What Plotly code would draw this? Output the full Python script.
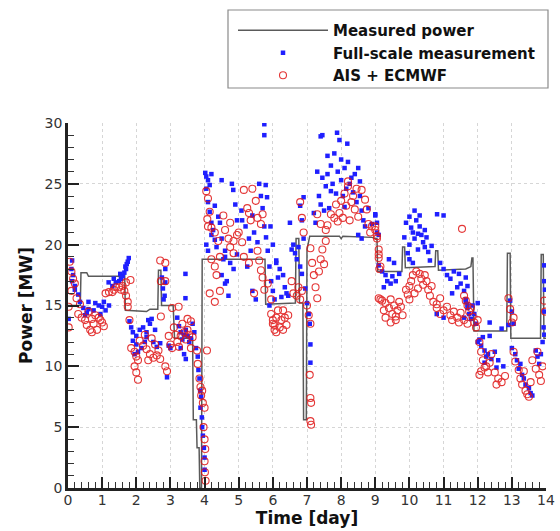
import plotly.graph_objects as go

# Measured power (step line): (time [day], power [MW])
measured = [
    (0.0, 15.0), (0.36, 15.0), (0.38, 17.7), (0.55, 17.7), (0.6, 17.4), (1.6, 17.4),
    (1.65, 17.5), (1.66, 17.5), (1.68, 14.6), (2.3, 14.5), (2.4, 14.7), (2.63, 14.7),
    (2.65, 17.9), (2.72, 17.9), (2.74, 15.0), (3.08, 15.0), (3.12, 12.3), (3.65, 12.3),
    (3.67, 5.6), (3.76, 5.6), (3.78, 3.3), (3.84, 3.3), (3.86, 0.0), (3.91, 0.0),
    (3.93, 18.8), (5.77, 18.8), (5.79, 15.1), (6.66, 15.2), (6.68, 20.5), (6.76, 20.5),
    (6.78, 15.2), (6.88, 15.2), (6.9, 5.6), (6.98, 5.6), (7.0, 19.6), (7.08, 20.7),
    (7.95, 20.7), (8.0, 20.5), (8.05, 20.7), (8.9, 20.6), (9.0, 20.5), (9.05, 20.5),
    (9.07, 17.8), (9.78, 17.8), (9.8, 19.8), (9.86, 19.8), (9.88, 18.1), (10.75, 18.2),
    (10.77, 19.5), (10.83, 19.5), (10.85, 17.9), (11.65, 18.0), (11.8, 18.2),
    (11.83, 18.9), (11.86, 18.9), (11.89, 12.9), (12.85, 12.9), (12.87, 19.3),
    (12.95, 19.3), (12.97, 12.3), (13.84, 12.3), (13.86, 19.2), (13.92, 19.2),
    (13.94, 12.3), (14.0, 12.3),
]

# Full-scale measurement (blue squares)
full_scale = [
    (0.12, 18.7), (0.10, 18.0), (0.15, 17.5), (0.12, 17.0), (0.20, 16.6), (0.20, 16.3),
    (0.30, 15.9), (0.35, 15.3), (0.02, 13.9), (0.45, 14.8), (0.55, 14.4), (0.60, 14.7),
    (0.50, 14.2), (0.60, 15.3), (0.80, 15.2), (0.90, 15.0), (1.00, 14.9), (1.10, 14.6),
    (0.75, 14.6), (0.95, 14.3), (1.05, 15.3), (1.20, 15.0), (1.19, 16.9), (1.30, 16.6),
    (1.34, 17.2), (1.40, 16.9), (1.50, 17.0), (1.53, 17.6), (1.55, 17.2), (1.60, 17.4),
    (1.65, 17.7), (1.68, 18.2), (1.70, 18.0), (1.72, 18.4), (1.75, 18.6), (1.78, 18.9),
    (1.80, 13.7), (1.85, 13.2), (1.90, 12.8), (2.00, 12.5), (2.10, 13.0), (2.20, 13.2),
    (2.30, 12.4), (2.00, 11.8), (1.90, 12.1), (2.35, 13.8), (2.40, 13.5), (2.25, 12.0),
    (2.15, 11.5), (2.05, 11.2), (1.95, 11.0), (2.30, 12.8), (2.50, 12.0), (2.60, 11.6),
    (2.70, 11.9), (2.45, 13.9), (2.55, 13.0), (2.75, 17.3), (2.78, 16.4), (2.80, 15.5),
    (2.85, 18.0), (2.85, 16.9), (2.83, 15.8), (2.90, 9.1), (2.95, 11.7), (3.00, 11.5),
    (3.20, 14.0), (3.25, 13.3), (3.30, 12.8), (3.35, 12.2), (3.40, 12.6), (3.45, 13.0),
    (3.50, 12.5), (3.55, 12.0), (3.60, 12.3), (3.30, 11.5), (3.40, 11.0), (3.45, 10.6),
    (3.65, 13.5), (3.70, 12.8), (3.75, 11.5), (3.44, 17.6), (3.44, 15.6),
    (3.80, 10.8), (3.82, 9.7), (3.85, 9.0), (3.87, 8.0), (3.90, 7.5), (3.88, 6.6),
    (3.92, 5.8), (3.93, 5.0), (3.95, 4.3), (3.98, 3.3), (4.00, 2.5), (4.00, 1.5),
    (4.02, 25.9), (4.05, 25.6), (4.10, 25.3), (4.20, 25.8), (4.15, 24.9), (4.05, 24.6),
    (4.10, 23.5), (4.15, 22.7), (4.20, 21.8), (4.05, 20.0), (4.10, 19.5), (4.20, 20.8),
    (4.25, 21.2), (4.30, 20.4), (4.30, 23.2), (4.40, 22.3), (4.45, 21.8), (4.50, 20.5),
    (4.60, 19.5), (4.55, 18.8), (4.50, 17.5), (4.60, 16.8), (4.70, 15.8), (4.65, 17.0),
    (4.50, 25.3), (4.84, 24.5), (4.80, 25.0), (4.90, 23.3), (4.95, 22.0), (4.60, 19.0),
    (4.75, 18.5), (4.85, 18.0), (5.08, 22.8), (5.10, 22.0), (5.20, 21.5), (5.30, 20.5),
    (5.35, 19.5), (5.40, 22.4), (5.45, 21.0), (5.60, 25.0), (5.65, 24.0), (5.70, 23.0),
    (5.75, 21.5), (5.80, 20.6), (5.75, 29.9), (5.75, 29.0), (5.79, 24.9), (5.83, 23.9),
    (5.40, 16.2), (5.50, 15.5), (5.85, 19.5), (5.90, 18.2), (5.95, 17.0), (6.00, 16.2),
    (6.05, 15.5), (5.90, 15.0), (4.35, 19.8), (4.95, 19.2), (5.25, 18.2), (5.55, 20.2),
    (5.93, 21.5), (6.00, 20.0), (6.10, 18.5), (6.15, 17.3), (6.10, 18.7), (6.20, 18.0),
    (6.30, 17.5), (6.35, 16.5), (6.40, 16.0), (6.25, 15.7), (6.45, 15.8), (6.50, 21.8),
    (6.60, 20.0), (6.65, 19.3), (6.70, 18.8), (6.75, 19.8), (6.80, 18.2), (6.85, 17.6),
    (6.55, 19.6), (6.90, 20.5), (6.80, 23.2), (6.85, 22.0), (6.90, 23.9), (6.95, 16.4),
    (7.00, 15.2), (7.05, 14.3), (7.08, 13.5), (7.10, 11.8), (7.10, 10.3), (7.20, 22.6),
    (7.25, 21.8), (7.40, 28.9), (7.45, 29.0), (7.88, 29.2), (8.18, 28.3), (7.95, 28.6),
    (7.30, 26.0), (7.45, 25.5), (7.55, 24.8), (7.60, 27.3), (7.70, 26.5), (7.75, 25.0),
    (7.85, 24.2), (7.90, 26.0), (8.00, 25.3), (8.05, 24.0), (8.10, 23.1), (8.20, 26.8),
    (8.30, 25.5), (8.35, 24.3), (8.40, 25.8), (8.45, 23.5), (7.50, 22.8), (7.65, 23.0),
    (7.35, 24.0), (7.80, 27.5), (8.25, 25.0), (7.60, 25.8), (8.10, 26.3), (7.70, 24.4),
    (8.00, 27.0), (8.55, 25.2), (7.40, 23.3), (8.15, 24.6),
    (8.50, 26.3), (8.55, 24.0), (8.60, 22.8), (8.65, 22.0), (8.70, 21.5), (8.80, 23.0),
    (8.90, 21.7), (9.00, 22.4), (9.05, 21.0), (8.50, 20.8), (8.60, 20.5),
    (9.00, 22.5), (9.05, 21.8), (9.10, 20.8), (9.10, 18.3), (9.20, 17.8), (9.30, 17.5),
    (9.35, 17.0), (9.45, 16.8), (9.50, 17.4), (9.60, 17.0), (9.70, 17.6), (9.25, 16.5),
    (9.40, 18.8), (9.55, 18.5), (9.90, 21.8), (10.00, 22.3), (10.10, 21.0), (10.15, 20.5),
    (10.20, 22.0), (10.30, 21.5), (10.35, 20.8), (10.40, 20.2), (10.45, 19.8),
    (10.50, 20.6), (10.55, 19.4), (10.60, 18.7), (10.00, 20.0), (9.95, 19.3),
    (10.25, 19.6), (10.30, 22.4), (10.15, 22.8), (10.81, 22.5), (11.00, 22.4),
    (10.05, 21.4), (10.25, 20.9), (10.45, 21.2), (9.85, 20.6), (10.65, 19.9),
    (10.90, 18.5), (11.00, 18.0), (11.10, 17.5), (11.20, 17.2), (11.30, 17.8),
    (11.40, 16.5), (11.50, 16.8), (11.60, 16.2), (11.65, 15.5), (11.70, 15.1),
    (11.25, 16.0), (11.45, 17.6), (10.00, 18.8), (10.10, 18.5), (10.80, 14.3), (11.00, 14.0),
    (11.65, 17.3), (11.70, 16.6), (11.65, 15.3), (11.70, 14.8), (11.75, 14.3),
    (11.80, 13.9), (11.85, 15.0), (11.90, 14.3), (11.95, 13.5), (11.60, 14.0),
    (12.00, 15.2), (12.05, 12.2), (12.10, 11.7), (12.15, 12.4), (12.20, 11.3),
    (12.30, 11.0), (12.35, 12.5), (12.00, 12.0), (12.25, 10.8), (12.35, 13.6),
    (12.70, 13.1), (12.20, 10.3), (12.40, 10.6), (12.55, 9.9), (12.60, 10.5),
    (12.75, 10.0), (12.50, 11.2), (12.95, 15.4), (13.00, 14.5), (12.90, 13.4),
    (13.05, 13.5), (13.00, 11.5), (13.10, 11.0), (13.15, 10.5), (13.20, 9.8),
    (13.30, 9.3), (13.35, 9.0), (13.40, 8.5), (13.50, 8.2), (13.55, 7.8), (13.60, 7.6),
    (13.25, 10.2), (13.70, 11.3), (13.75, 10.8), (13.80, 10.2), (13.85, 11.0),
    (13.90, 12.0), (13.95, 12.6), (13.95, 18.3), (13.95, 17.0), (13.97, 16.3),
    (13.95, 14.5), (13.93, 13.2),
]

# AIS + ECMWF (red open circles)
ais_ecmwf = [
    (0.05, 18.6), (0.10, 17.8), (0.15, 17.2), (0.20, 16.8), (0.10, 16.2), (0.02, 14.9),
    (0.02, 13.2), (0.25, 15.6), (0.35, 15.1), (0.30, 14.3), (0.40, 14.0), (0.50, 13.8),
    (0.55, 13.4), (0.65, 13.0), (0.70, 13.9), (0.75, 13.5), (0.70, 12.8), (0.60, 14.5),
    (0.85, 13.0), (0.80, 14.2), (0.90, 14.0), (1.00, 13.6), (1.05, 13.3), (0.95, 13.8),
    (1.10, 16.0), (1.20, 16.1), (1.30, 16.1), (1.35, 16.3), (1.40, 16.5), (1.50, 16.5),
    (1.55, 16.3), (1.60, 16.6), (1.65, 16.2), (1.70, 16.9), (1.83, 17.1), (1.70, 15.8),
    (1.75, 15.3), (1.75, 14.9), (1.80, 13.8), (1.85, 11.5), (1.95, 11.2), (2.00, 10.8),
    (2.05, 10.5), (1.95, 10.0), (2.00, 9.5), (2.05, 8.9), (2.10, 12.1), (2.20, 11.7),
    (2.30, 11.4), (2.40, 11.0), (2.50, 10.7), (2.60, 10.9), (2.25, 12.6), (2.45, 12.3),
    (2.55, 11.8), (2.65, 11.3), (2.70, 10.6), (2.35, 10.5), (2.70, 18.7), (2.72, 17.0),
    (2.72, 14.1), (2.90, 9.6), (2.95, 12.5), (3.00, 11.8), (3.05, 11.5),
    (2.85, 18.5), (2.85, 17.0), (2.85, 10.0), (3.05, 14.8), (3.10, 13.2), (3.15, 12.6),
    (3.20, 12.0), (3.25, 11.6), (3.30, 12.5), (3.35, 13.5), (3.40, 12.8), (3.45, 12.2),
    (3.50, 13.0), (3.55, 12.6), (3.60, 11.5), (3.65, 12.4), (3.50, 13.9), (3.60, 13.7),
    (3.24, 14.9), (3.78, 11.3), (3.80, 10.2), (3.85, 9.0), (3.88, 8.3), (3.90, 7.6),
    (3.95, 7.0), (4.00, 6.6), (3.93, 8.0), (3.97, 5.0), (4.00, 4.0), (4.02, 3.2),
    (4.00, 2.2), (4.01, 1.3), (4.03, 0.6), (4.07, 11.3), (4.05, 24.4), (4.10, 23.8),
    (4.15, 22.7), (4.08, 22.1), (4.10, 21.5), (4.20, 21.4), (4.30, 21.0), (4.40, 20.3),
    (4.20, 18.8), (4.30, 18.2), (4.35, 17.5), (4.45, 16.2), (4.15, 16.0), (4.30, 15.3),
    (4.45, 19.0), (4.55, 22.4), (4.60, 21.2), (4.70, 20.5), (4.75, 21.8), (4.85, 20.3),
    (4.95, 20.8), (5.00, 21.0), (5.10, 20.2), (4.85, 19.3), (4.75, 19.8), (5.15, 19.0),
    (5.30, 18.5), (5.15, 24.5), (5.25, 23.0), (5.30, 22.6), (5.35, 22.0), (5.50, 23.6),
    (5.55, 22.2), (5.65, 21.7), (5.70, 22.5), (5.40, 24.6), (5.55, 19.5), (5.60, 18.7),
    (5.65, 17.9), (5.70, 17.3), (5.75, 16.3), (5.45, 16.0), (5.85, 16.8), (5.95, 15.5),
    (6.00, 13.5), (6.05, 13.0),
    (5.95, 14.3), (6.00, 13.8), (6.05, 13.4), (6.10, 14.0), (6.15, 14.6), (6.20, 13.2),
    (6.25, 13.8), (6.30, 14.6), (6.35, 14.0), (6.40, 13.4), (6.45, 14.2), (6.10, 12.8),
    (6.30, 13.0), (6.55, 17.0), (6.60, 16.0), (6.70, 15.8), (6.75, 16.5), (6.80, 15.5),
    (6.85, 16.2), (6.80, 23.5), (6.85, 22.2), (6.90, 21.0), (7.00, 15.0), (7.05, 14.2),
    (7.10, 13.5), (7.08, 9.3), (7.10, 7.4), (7.12, 7.0), (7.10, 5.5), (7.12, 5.2),
    (7.10, 19.7), (7.15, 18.5), (7.20, 17.5), (7.25, 16.5), (7.30, 15.6), (7.35, 17.8),
    (7.40, 18.8), (7.45, 19.6), (7.55, 20.3), (7.50, 18.4), (7.30, 22.5), (7.40, 21.7),
    (7.55, 21.2), (7.70, 22.5), (7.80, 22.2), (7.90, 21.9), (7.60, 21.6), (8.00, 23.6),
    (8.10, 24.2), (8.20, 24.8), (8.30, 23.5), (8.40, 22.9), (8.50, 22.3), (8.25, 22.0),
    (8.15, 23.2), (8.20, 25.2), (7.85, 23.3), (7.95, 22.6), (8.05, 22.2), (8.35, 24.0),
    (8.45, 24.6), (8.60, 24.5), (8.70, 23.7), (8.75, 22.9), (8.80, 21.7), (8.85, 21.0),
    (8.90, 21.5), (9.00, 21.2), (9.05, 20.7), (9.10, 19.6), (9.10, 19.2), (9.12, 18.0),
    (9.15, 15.5),
    (9.00, 21.5), (9.05, 20.5), (9.10, 18.9), (9.15, 18.2), (9.10, 15.6), (9.20, 15.4),
    (9.25, 14.6), (9.30, 15.2), (9.40, 14.8), (9.45, 15.5), (9.50, 14.3), (9.55, 15.0),
    (9.60, 14.1), (9.65, 14.6), (9.70, 15.3), (9.75, 14.9), (9.80, 14.2), (9.30, 14.0),
    (9.45, 13.6), (9.60, 13.8), (9.90, 16.3), (10.00, 16.6), (10.05, 17.0), (10.10, 17.5),
    (10.20, 17.8), (10.30, 17.6), (10.35, 17.2), (10.40, 16.7), (10.15, 16.0),
    (10.25, 16.4), (10.00, 15.5), (9.95, 15.9), (10.45, 17.5), (10.50, 17.0),
    (10.55, 16.3), (10.60, 15.8), (10.70, 15.3), (10.80, 15.1), (10.90, 15.6),
    (10.65, 16.6), (10.80, 14.8), (10.90, 14.3), (11.00, 14.6), (11.10, 14.9),
    (11.20, 14.2), (11.30, 14.5), (11.40, 14.0), (11.50, 14.4), (11.60, 13.8),
    (11.70, 13.5), (11.25, 13.8), (11.45, 13.6), (11.54, 21.3),
    (11.65, 15.4), (11.70, 15.0), (11.75, 14.5), (11.80, 14.8), (11.85, 14.1),
    (11.90, 13.6), (11.95, 13.2), (12.00, 13.8), (11.60, 15.8), (12.05, 12.0),
    (12.10, 11.2), (12.15, 10.5), (12.20, 9.9), (12.30, 9.5), (12.35, 10.3),
    (12.40, 11.0), (12.25, 10.0), (12.05, 9.3), (12.10, 9.6), (12.50, 9.5),
    (12.60, 9.0), (12.70, 8.7), (12.80, 9.2), (12.55, 8.5), (12.90, 15.6),
    (12.95, 14.7), (13.00, 13.6), (13.05, 14.0), (13.05, 11.2), (13.10, 10.4),
    (13.20, 9.7), (13.25, 9.0), (13.30, 8.5), (13.40, 8.0), (13.45, 7.7), (13.50, 7.5),
    (13.55, 8.7), (13.35, 9.6), (13.60, 10.5), (13.70, 9.8), (13.75, 11.2),
    (13.80, 9.3), (13.85, 8.8), (13.90, 10.0), (13.95, 15.4), (13.97, 14.5),
]

x_ticks = list(range(0, 15))
y_ticks = [0, 5, 10, 15, 20, 25, 30]

mt, mp = zip(*measured)
ft, fp = zip(*full_scale)
at, ap = zip(*ais_ecmwf)

fig = go.Figure()
fig.add_trace(go.Scatter(x=mt, y=mp, mode="lines", name="Measured power",
                         line=dict(color="#5a5a5a", width=1.5)))
fig.add_trace(go.Scatter(x=ft, y=fp, mode="markers", name="Full-scale measurement",
                         marker=dict(symbol="square", size=4.5, color="#1f1fff")))
fig.add_trace(go.Scatter(x=at, y=ap, mode="markers", name="AIS + ECMWF",
                         marker=dict(symbol="circle-open", size=7, color="#e01515",
                                     line=dict(width=1.1)), opacity=0.85))

W, H = 560, 531
L, R, T, B = 68, 14, 123, 43
pw, ph = W - L - R, H - T - B


def px(xp):
    return (xp - L) / pw


def py(yp):
    return (H - B - yp) / ph


axis_common = dict(
    ticks="inside", ticklen=11, tickwidth=2, tickcolor="#222",
    showline=True, linewidth=2.5, linecolor="#222", mirror=False,
    showgrid=True, gridcolor="#d6d6d6", griddash="dot", gridwidth=1,
    zeroline=False, automargin=False,
    tickfont=dict(family="DejaVu Sans", size=14, color="#333"),
    title_font=dict(family="DejaVu Sans", size=17, color="#111", weight="bold"),
)

fig.update_xaxes(range=[0, 14], tickvals=x_ticks, title_text="Time [day]",
                 minor=dict(dtick=0.2, tick0=0, ticks="inside", ticklen=6, tickwidth=1.2,
                            tickcolor="#333", showgrid=False),
                 ticklabelstandoff=-3, title_standoff=2, **axis_common)
fig.update_yaxes(range=[0, 30], tickvals=y_ticks, title_text="Power [MW]",
                 minor=dict(dtick=1, tick0=0, ticks="inside", ticklen=6, tickwidth=1.2,
                            tickcolor="#333", showgrid=False),
                 title_standoff=8, **axis_common)

fig.add_shape(type="rect", xref="paper", yref="paper",
              x0=px(228), x1=px(548), y0=py(88), y1=py(10),
              line=dict(color="#8a8a8a", width=1.2), fillcolor="white", layer="below")

fig.update_layout(
    width=W, height=H, margin=dict(l=L, r=R, t=T, b=B),
    plot_bgcolor="white", paper_bgcolor="white",
    legend=dict(x=px(233), y=py(14), xanchor="left", yanchor="top",
                bgcolor="rgba(0,0,0,0)", borderwidth=0, itemwidth=90,
                font=dict(family="DejaVu Sans", size=15, color="#111", weight="bold")),
)

fig.write_html("out.html")
